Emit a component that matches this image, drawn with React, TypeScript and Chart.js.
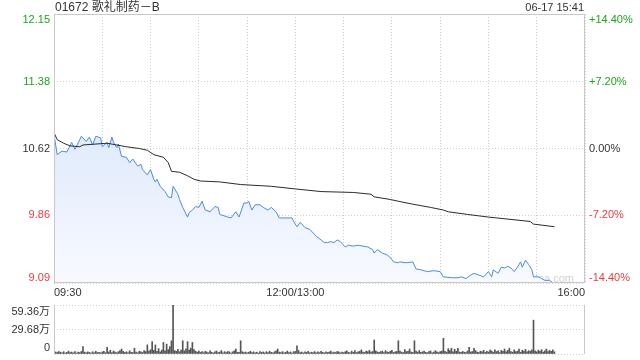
import React, { useEffect, useRef } from "react";
import { Chart, registerables } from "chart.js";

Chart.register(...registerables);

const TITLE = "01672 歌礼制药－B";
const STAMP = "06-17 15:41";
const WATERMARK = "sina.com";

const PRICE_TICKS = [9.09, 9.86, 10.62, 11.38, 12.15];
const PRICE_LABELS = ["9.09", "9.86", "10.62", "11.38", "12.15"];
const PCT_LABELS = ["-14.40%", "-7.20%", "0.00%", "+7.20%", "+14.40%"];
const PREV_CLOSE = 10.62;

const GRID_MINUTES = [0, 30, 60, 90, 120, 150, 180, 210, 240, 270, 300, 330];
const TIME_LABELS = ["09:30", "12:00/13:00", "16:00"];
const TIME_LABEL_MINUTES = [0, 150, 330];

const VOL_TICKS = [0, 29.68, 59.36];
const VOL_LABELS = ["0", "29.68万", "59.36万"];

// minute offsets from 09:30 (lunch break removed) and price
const priceMinutes = [
  0, 2, 5, 8, 11, 13, 16, 17, 20, 22, 24, 26, 29, 30, 33, 34, 36, 37, 39, 40,
  42, 45, 47, 49, 52, 54, 55, 58, 60, 62, 63, 64, 66, 69, 71, 73, 74, 77, 78, 80,
  83, 84, 86, 88, 90, 92, 94, 97, 100, 102, 103, 108, 110, 113, 115, 118, 120, 121, 123, 125,
  128, 130, 133, 135, 138, 140, 143, 148, 149, 151, 153, 156, 159, 163, 166, 168, 170, 172, 174, 176,
  178, 181, 183, 186, 189, 192, 195, 198, 199, 201, 204, 207, 209, 211, 214, 215, 219, 223, 225, 228,
  232, 236, 240, 242, 247, 251, 253, 256, 259, 261, 264, 267, 270, 272, 273, 276, 278, 280, 282, 284,
  286, 288, 290, 291, 293, 295, 297, 298, 301, 303, 305, 308, 310, 311,
];
const prices = [
  10.78, 10.55, 10.59, 10.58, 10.69, 10.61, 10.72, 10.76, 10.70, 10.75, 10.66, 10.76, 10.74, 10.64, 10.69, 10.63, 10.75, 10.69, 10.63, 10.67,
  10.53, 10.52, 10.46, 10.50, 10.42, 10.44, 10.38, 10.32, 10.38, 10.27, 10.24, 10.27, 10.19, 10.13, 10.07, 10.06, 10.19, 10.10, 10.04, 9.95,
  9.84, 9.89, 9.92, 9.96, 9.95, 10.02, 9.92, 9.90, 9.96, 9.95, 9.87, 9.84, 9.83, 9.90, 9.84, 10.00, 10.00, 10.02, 9.92, 9.98,
  9.98, 9.95, 9.92, 9.95, 9.90, 9.83, 9.83, 9.83, 9.79, 9.73, 9.78, 9.72, 9.70, 9.62, 9.58, 9.55, 9.55, 9.56, 9.55, 9.58,
  9.56, 9.50, 9.52, 9.51, 9.52, 9.51, 9.50, 9.47, 9.43, 9.47, 9.43, 9.41, 9.38, 9.33, 9.32, 9.33, 9.32, 9.33, 9.25, 9.24,
  9.22, 9.23, 9.22, 9.16, 9.15, 9.15, 9.16, 9.14, 9.18, 9.20, 9.18, 9.16, 9.22, 9.16, 9.24, 9.20, 9.27, 9.26, 9.28, 9.26,
  9.22, 9.27, 9.33, 9.27, 9.35, 9.30, 9.24, 9.16, 9.16, 9.14, 9.12, 9.12, 9.09, 9.09,
];

const avgMinutes = [
  0, 2, 6, 10, 16, 18, 33, 39, 45, 53, 58, 62, 68, 71, 73, 78, 83, 87, 91, 103,
  116, 135, 150, 166, 186, 197, 199, 209, 214, 222, 234, 242, 245, 257, 270, 296, 298, 311,
];
const avgPrices = [
  10.80, 10.72, 10.68, 10.65, 10.64, 10.66, 10.68, 10.66, 10.64, 10.62, 10.60, 10.55, 10.52, 10.46, 10.36, 10.35, 10.31, 10.27, 10.25, 10.24,
  10.21, 10.19, 10.16, 10.13, 10.12, 10.10, 10.07, 10.04, 10.02, 9.99, 9.95, 9.92, 9.90, 9.87, 9.84, 9.79, 9.76, 9.73,
];

// volume per minute, in 万 shares
const volumes = [
  5, 2.5, 1.8, 3, 2.2, 1.5, 2.8, 1.2, 2, 3.5, 1.6, 2.4, 1.3, 2.9, 1.1, 2.2, 1.7, 3.1, 9, 2.3,
  1.4, 2.6, 1.9, 1.2, 2.7, 1.5, 3.3, 1.8, 2.1, 1.4, 2.5, 3.2, 1.6, 8, 2.4, 4.5, 1.7, 3.6, 2.2, 1.5,
  2.8, 4.1, 6, 3.2, 1.9, 2.6, 1.3, 3.8, 2.1, 1.6, 7, 2.4, 1.5, 3.3, 2.7, 1.8, 4.2, 2.9, 11, 3.5,
  5.2, 15, 4.4, 11, 3.1, 6.5, 2.6, 4.8, 14, 3.9, 12, 5.4, 9, 16, 59.36, 4.1, 3.3, 5.8, 2.7, 4.6,
  16, 3.8, 6.2, 15, 4.9, 7.1, 14, 5.3, 3.4, 2.2, 3.7, 1.9, 2.8, 1.5, 3.2, 2.4, 1.6, 3.9, 2.1, 1.3,
  2.7, 3.6, 1.8, 2.3, 4.2, 1.4, 2.9, 1.7, 3.1, 2.5, 1.2, 2.6, 3.8, 6, 2.2, 1.9, 16, 2.8, 1.6, 2.4,
  1.5, 2.1, 3.3, 1.8, 2.6, 1.4, 2.2, 1.1, 3.0, 1.9, 2.5, 1.3, 2.8, 1.7, 3.4, 2.0, 1.5, 2.7, 3.9, 6,
  2.3, 1.6, 2.9, 1.4, 2.1, 3.6, 1.8, 2.5, 1.2, 2.8, 3.1, 10, 4.2, 1.7, 2.4, 1.3, 2.6, 1.9, 3.2, 1.5,
  2.2, 1.8, 2.9, 1.4, 2.5, 1.6, 3.3, 2.0, 1.3, 2.7, 1.9, 2.4, 3.5, 1.6, 2.2, 1.8, 3.0, 2.6, 1.4, 2.3,
  1.7, 2.8, 3.9, 2.1, 1.5, 3.4, 2.0, 4.1, 1.8, 2.6, 3.2, 5, 2.4, 1.9, 3.6, 2.8, 4.4, 2.2, 3.0, 17,
  3.8, 2.5, 1.9, 2.9, 3.4, 1.6, 4.0, 2.7, 2.1, 3.3, 4.5, 1.8, 2.6, 3.1, 16, 3.6, 2.3, 1.7, 5.4, 2.9,
  3.2, 6, 2.4, 1.8, 16, 3.5, 2.2, 4.1, 1.9, 2.6, 3.4, 2.0, 1.6, 2.8, 3.7, 1.5, 2.3, 4.0, 2.6, 1.8,
  2.9, 3.5, 19, 3.1, 2.2, 6.5, 4.2, 7, 2.6, 5.8, 3.3, 6.8, 2.4, 1.9, 3.1, 2.2, 1.7, 3.6, 8, 2.5,
  3.0, 7, 4.1, 2.3, 1.8, 3.4, 2.7, 4.5, 1.9, 3.2, 2.4, 4.8, 3.6, 2.1, 5.2, 2.9, 3.8, 1.7, 4.3, 3.1,
  6, 2.6, 4.4, 7, 3.0, 2.2, 4.9, 2.8, 3.5, 6, 2.1, 4.6, 3.3, 5.5, 2.7, 4.0, 3.4, 5.1, 41, 3.9,
  2.6, 4.7, 3.1, 5.3, 2.4, 3.8, 6, 2.9, 4.4, 3.2, 5.0, 2.7,
];

const FONT = "'Liberation Sans', Arial, 'Noto Sans CJK SC', sans-serif";
const GREEN = "#1ea51e";
const RED = "#f03c3c";
const DARK = "#333333";
const GRID = "#cfcfcf";
const BOX = "#c8c8c8";

function labelColor(v: number) {
  if (v > PREV_CLOSE + 0.001) return GREEN;
  if (v < PREV_CLOSE - 0.001) return RED;
  return DARK;
}

const mainPlugin = {
  id: "mainDeco",
  beforeDatasetsDraw(chart: any) {
    const { ctx, chartArea } = chart;
    ctx.save();
    ctx.font = `11px ${FONT}`;
    ctx.fillStyle = "#d2d2d2";
    ctx.textAlign = "right";
    ctx.textBaseline = "alphabetic";
    ctx.fillText(WATERMARK, chartArea.right - 11, chartArea.bottom - 1);
    ctx.restore();
  },
  afterDraw(chart: any) {
    const { ctx, chartArea, scales } = chart;
    const { left, right, top, bottom } = chartArea;
    ctx.save();
    ctx.strokeStyle = BOX;
    ctx.lineWidth = 1;
    ctx.setLineDash([]);
    ctx.strokeRect(left + 0.5, top + 0.5, right - left - 1, bottom - top - 1);

    ctx.textBaseline = "middle";
    ctx.font = `11px ${FONT}`;
    PRICE_TICKS.forEach((v, i) => {
      let y = scales.y.getPixelForValue(v);
      y = Math.max(top + 6, Math.min(bottom - 5, y));
      ctx.fillStyle = labelColor(v);
      ctx.textAlign = "right";
      ctx.fillText(PRICE_LABELS[i], left - 4, y);
      ctx.textAlign = "left";
      ctx.fillText(PCT_LABELS[i], right + 4, y);
    });

    ctx.fillStyle = DARK;
    TIME_LABEL_MINUTES.forEach((m, i) => {
      const x = scales.x.getPixelForValue(m);
      ctx.textAlign = i === 0 ? "left" : i === TIME_LABELS.length - 1 ? "right" : "center";
      ctx.fillText(TIME_LABELS[i], x, bottom + 10);
    });

    ctx.font = `12px ${FONT}`;
    ctx.textAlign = "left";
    ctx.fillText(TITLE, left + 1, 8);
    ctx.font = `11px ${FONT}`;
    ctx.textAlign = "right";
    ctx.fillText(STAMP, right - 1, 8);
    ctx.restore();
  },
};

const volPlugin = {
  id: "volDeco",
  afterDraw(chart: any) {
    const { ctx, chartArea, scales } = chart;
    const { left, right, top, bottom } = chartArea;
    ctx.save();
    ctx.strokeStyle = BOX;
    ctx.lineWidth = 1;
    ctx.beginPath();
    ctx.moveTo(left + 0.5, top);
    ctx.lineTo(left + 0.5, bottom);
    ctx.moveTo(right - 0.5, top);
    ctx.lineTo(right - 0.5, bottom);
    ctx.stroke();
    ctx.font = `11px ${FONT}`;
    ctx.fillStyle = DARK;
    ctx.textAlign = "right";
    ctx.textBaseline = "middle";
    VOL_TICKS.forEach((v, i) => {
      let y = scales.y.getPixelForValue(v);
      y = Math.max(top + 7, Math.min(bottom - 6, y));
      ctx.fillText(VOL_LABELS[i], left - 4, y);
    });
    ctx.restore();
  },
};

export default function App() {
  const mainRef = useRef<HTMLCanvasElement>(null);
  const volRef = useRef<HTMLCanvasElement>(null);

  useEffect(() => {
    const gridX = {
      type: "linear" as const,
      min: 0,
      max: 330,
      afterBuildTicks: (s: any) => {
        s.ticks = GRID_MINUTES.map((v) => ({ value: v }));
      },
      afterFit: (s: any) => {
        s.height = 0;
      },
      ticks: { display: false },
      grid: { color: GRID, lineWidth: 1, drawTicks: false },
      border: { display: false, dash: [1, 2] },
    };

    const main = new Chart(mainRef.current!, {
      type: "line",
      data: {
        datasets: [
          {
            label: "均价",
            data: avgMinutes.map((m, i) => ({ x: m, y: avgPrices[i] })),
            borderColor: "#2b2b2b",
            borderWidth: 1,
            pointRadius: 0,
            tension: 0,
            fill: false,
          },
          {
            label: "价格",
            data: priceMinutes.map((m, i) => ({ x: m, y: prices[i] })),
            borderColor: "#4a89f0",
            borderWidth: 1,
            pointRadius: 0,
            tension: 0,
            fill: "start",
            backgroundColor: (c: any) => {
              const area = c.chart.chartArea;
              if (!area) return "rgba(220,232,250,1)";
              const g = c.chart.ctx.createLinearGradient(0, area.top, 0, area.bottom);
              g.addColorStop(0, "rgb(205,222,248)");
              g.addColorStop(1, "rgb(248,250,255)");
              return g;
            },
          },
        ],
      },
      options: {
        responsive: false,
        animation: false,
        events: [],
        layout: { padding: { left: 54, right: 55, top: 14, bottom: 17 } },
        plugins: { legend: { display: false }, tooltip: { enabled: false } },
        scales: {
          x: gridX as any,
          y: {
            min: PRICE_TICKS[0],
            max: PRICE_TICKS[PRICE_TICKS.length - 1],
            afterBuildTicks: (s: any) => {
              s.ticks = PRICE_TICKS.map((v) => ({ value: v }));
            },
            afterFit: (s: any) => {
              s.width = 0;
            },
            ticks: { display: false },
            grid: { color: GRID, lineWidth: 1, drawTicks: false },
            border: { display: false, dash: [1, 2] },
          },
        },
      },
      plugins: [mainPlugin],
    });

    const vol = new Chart(volRef.current!, {
      type: "bar",
      data: {
        datasets: [
          {
            label: "成交量",
            data: volumes.map((v, i) => ({ x: i, y: v })),
            backgroundColor: "#555555",
            barThickness: 1,
            categoryPercentage: 1,
            barPercentage: 1,
          },
        ],
      },
      options: {
        responsive: false,
        animation: false,
        events: [],
        layout: { padding: { left: 54, right: 55, top: 5, bottom: 6 } },
        plugins: { legend: { display: false }, tooltip: { enabled: false } },
        scales: {
          x: {
            type: "linear",
            min: 0,
            max: 330,
            offset: false,
            afterFit: (s: any) => {
              s.height = 0;
            },
            ticks: { display: false },
            grid: { display: false, drawTicks: false },
            border: { display: false },
          },
          y: {
            min: 0,
            max: VOL_TICKS[VOL_TICKS.length - 1],
            afterBuildTicks: (s: any) => {
              s.ticks = VOL_TICKS.map((v) => ({ value: v }));
            },
            afterFit: (s: any) => {
              s.width = 0;
            },
            ticks: { display: false },
            grid: { color: GRID, lineWidth: 1, drawTicks: false },
            border: { display: false, dash: [1, 2] },
          },
        },
      } as any,
      plugins: [volPlugin],
    });

    return () => {
      main.destroy();
      vol.destroy();
    };
  }, []);

  return (
    <div
      style={{
        position: "fixed",
        left: 0,
        top: 0,
        width: 640,
        height: 360,
        background: "#ffffff",
        overflow: "hidden",
      }}
    >
      <canvas
        ref={mainRef}
        width={640}
        height={300}
        style={{ position: "absolute", left: 0, top: 0, width: 640, height: 300 }}
      />
      <canvas
        ref={volRef}
        width={640}
        height={60}
        style={{ position: "absolute", left: 0, top: 300, width: 640, height: 60 }}
      />
    </div>
  );
}
